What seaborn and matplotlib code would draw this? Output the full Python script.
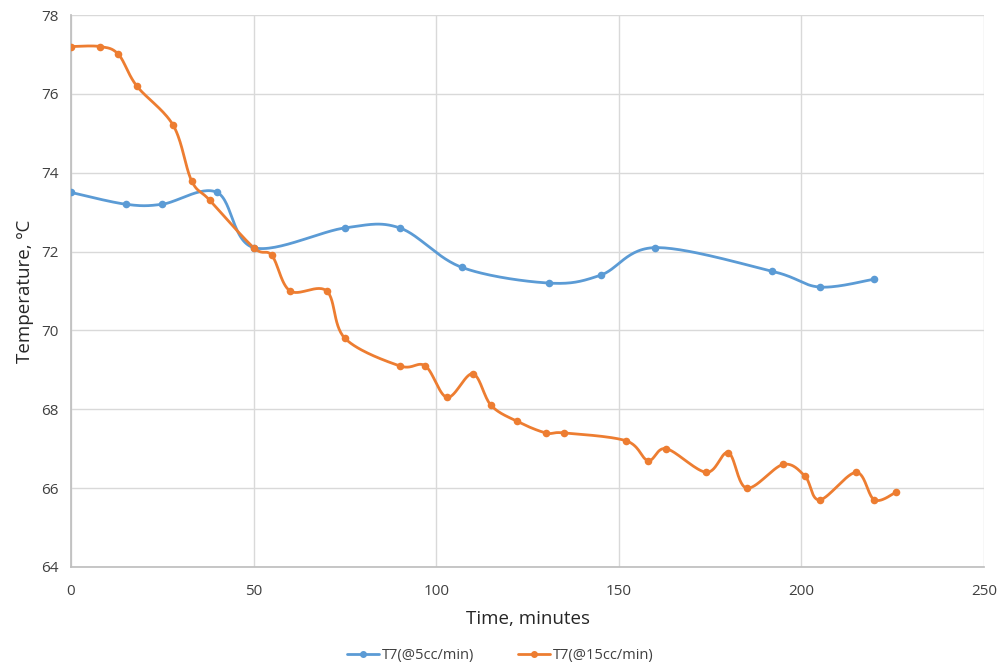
import numpy as np
import pandas as pd
import matplotlib
matplotlib.use("Agg")
import matplotlib.pyplot as plt
import seaborn as sns
from matplotlib.lines import Line2D

# ---- data ----
t_5cc = [0, 15, 25, 40, 50, 75, 90, 107, 131, 145, 160, 192, 205, 220]
T_5cc = [73.5, 73.2, 73.2, 73.5, 72.1, 72.6, 72.6, 71.6, 71.2, 71.4, 72.1, 71.5, 71.1, 71.3]

t_15cc = [0, 8, 13, 18, 28, 33, 38, 50, 55, 60, 70, 75, 90, 97, 103, 110, 115, 122,
          130, 135, 152, 158, 163, 174, 180, 185, 195, 201, 205, 215, 220, 226]
T_15cc = [77.2, 77.2, 77.0, 76.2, 75.2, 73.8, 73.3, 72.1, 71.9, 71.0, 71.0, 69.8, 69.1,
          69.1, 68.3, 68.9, 68.1, 67.7, 67.4, 67.4, 67.2, 66.7, 67.0, 66.4, 66.9, 66.0,
          66.6, 66.3, 65.7, 66.4, 65.7, 65.9]

series_names = ["T7(@5cc/min)", "T7(@15cc/min)"]
colors = ["#5B9BD5", "#ED7D31"]
x_ticks = [0, 50, 100, 150, 200, 250]
y_ticks = [64, 66, 68, 70, 72, 74, 76, 78]


def smooth_path(x, y, n=30):
    """Excel-style smoothed line rendering (Catmull-Rom Bezier segments)."""
    x = np.asarray(x, float); y = np.asarray(y, float)
    P = np.column_stack([x, y])
    out = []
    for i in range(len(P) - 1):
        p0 = P[i - 1] if i > 0 else P[i]
        p1 = P[i]; p2 = P[i + 1]
        p3 = P[i + 2] if i + 2 < len(P) else P[i + 1]
        c1 = p1 + (p2 - p0) / 6.0
        c2 = p2 - (p3 - p1) / 6.0
        s = np.linspace(0, 1, n, endpoint=(i == len(P) - 2))[:, None]
        seg = ((1 - s) ** 3) * p1 + 3 * ((1 - s) ** 2) * s * c1 + 3 * (1 - s) * s ** 2 * c2 + s ** 3 * p2
        out.append(seg)
    out = np.vstack(out)
    return out[:, 0], out[:, 1]


sns.set_theme(style="white")
plt.rcParams["font.family"] = ["Open Sans", "DejaVu Sans"]

fig = plt.figure(figsize=(10, 6.67), dpi=100)
ax = fig.add_axes([0.071, 0.15, 0.913, 0.8275])

for (tx, ty, name, col) in [(t_5cc, T_5cc, series_names[0], colors[0]),
                            (t_15cc, T_15cc, series_names[1], colors[1])]:
    sx, sy = smooth_path(tx, ty)
    df_line = pd.DataFrame({"t": sx, "T": sy})
    sns.lineplot(data=df_line, x="t", y="T", sort=False, estimator=None, color=col,
                 linewidth=2.0, ax=ax, legend=False)
    df_pts = pd.DataFrame({"t": tx, "T": ty})
    sns.scatterplot(data=df_pts, x="t", y="T", color=col, s=30, edgecolor=col,
                    linewidth=0, ax=ax, legend=False, zorder=3)

ax.set_xlim(0, 250)
ax.set_ylim(64, 78)
ax.set_xticks(x_ticks)
ax.set_yticks(y_ticks)
ax.grid(True, color="#D9D9D9", linewidth=1.0)
ax.set_axisbelow(True)
for side in ["top", "right"]:
    ax.spines[side].set_visible(False)
ax.spines["left"].set_color("#BFBFBF")
ax.spines["bottom"].set_color("#BFBFBF")
ax.tick_params(axis="both", labelsize=11, colors="#404040", length=0)
ax.tick_params(axis="x", pad=12)
ax.tick_params(axis="y", pad=9)
ax.set_xlabel("Time, minutes", fontsize=13.5, color="#262626", labelpad=8)
ax.set_ylabel("Temperature, \u00baC", fontsize=13.5, color="#262626", labelpad=5)

handles = [Line2D([0], [0], color=c, lw=2, marker="o", markersize=4) for c in colors]
fig.legend(handles, series_names, loc="lower center", bbox_to_anchor=(0.5, -0.014),
           ncol=2, frameon=False, fontsize=10.5, handlelength=2.2, handletextpad=0.2,
           columnspacing=3.0, labelcolor="#404040")

fig.savefig("out.png", dpi=100)
